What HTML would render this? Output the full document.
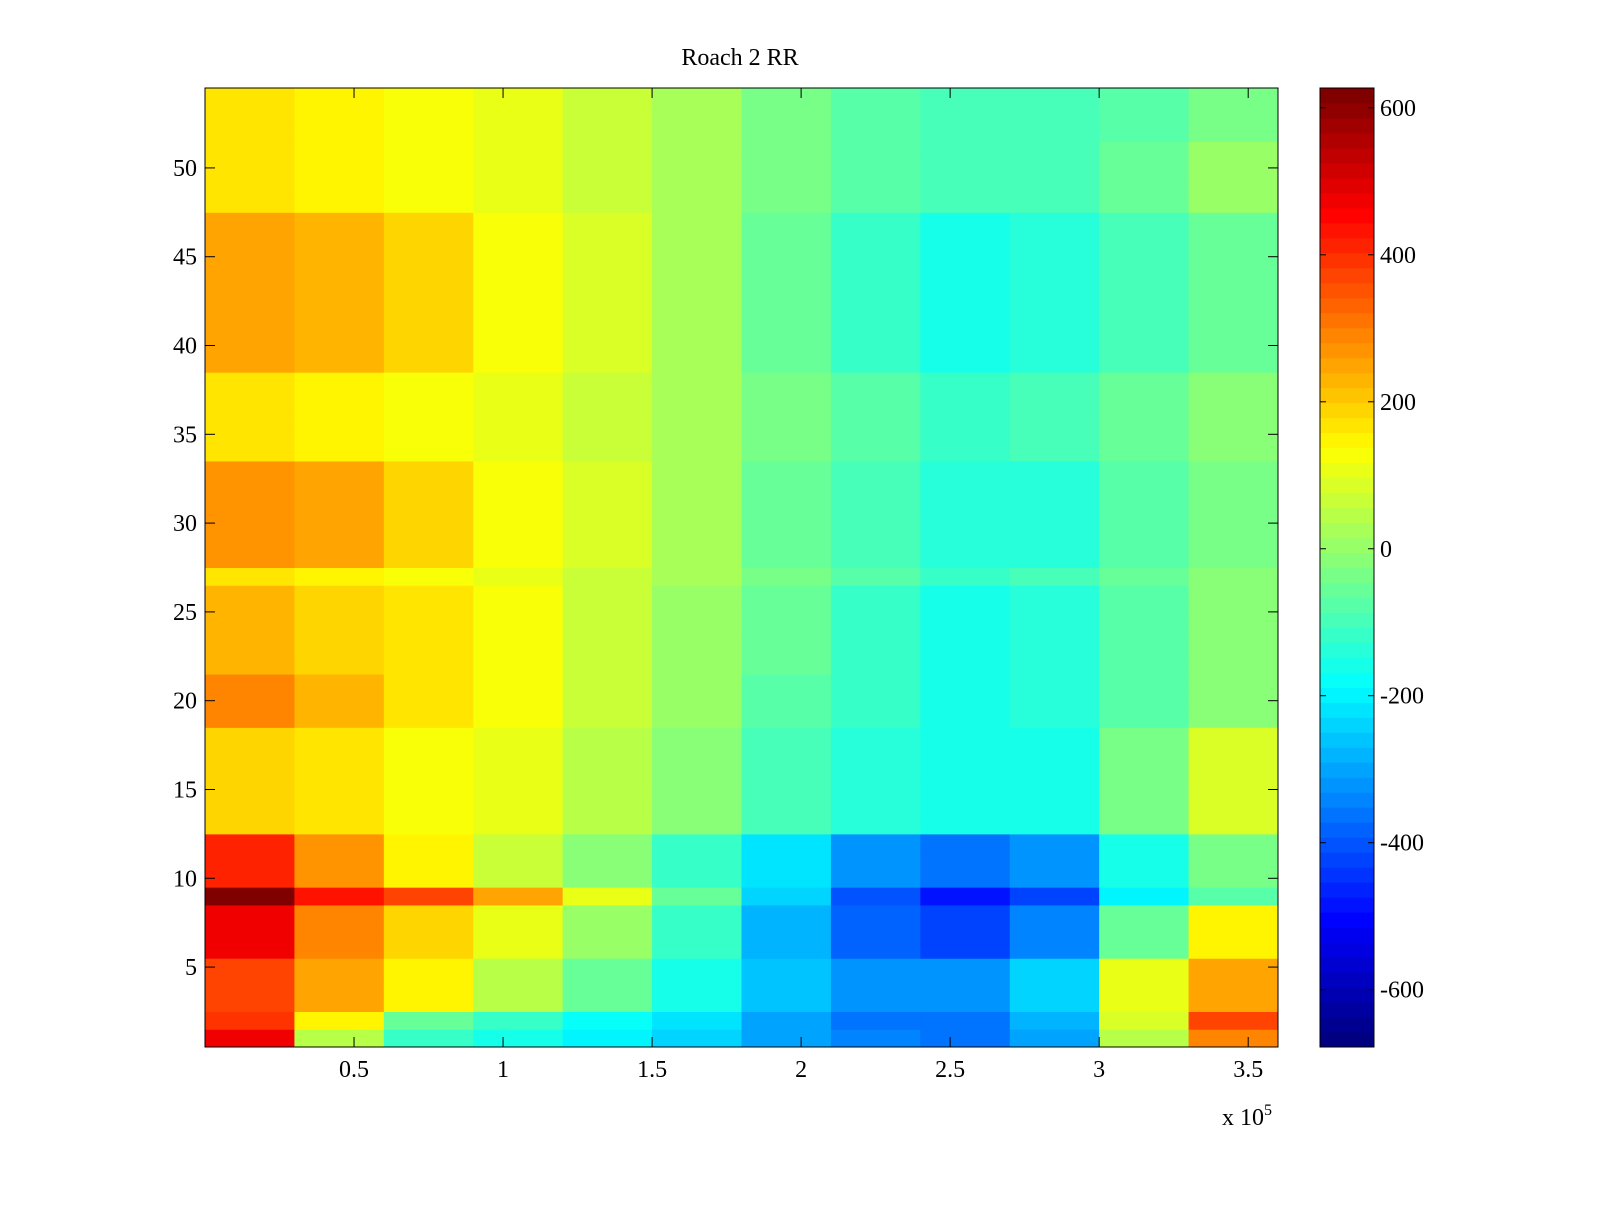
<!DOCTYPE html>
<html><head><meta charset="utf-8"><style>
body{margin:0;background:#fff;}
svg text{font-family:"Liberation Serif",serif;font-size:24px;fill:#000;}
</style></head><body>
<svg id="chart" width="1600" height="1200" xmlns="http://www.w3.org/2000/svg">
<rect width="1600" height="1200" fill="#fff"/>
<text x="740" y="65" text-anchor="middle">Roach 2 RR</text>
<g id="cells"></g>
<g id="cbar"></g>
<g id="axes"></g>
<text x="1222" y="1125">x 10<tspan dy="-10" font-size="16">5</tspan></text>
</svg>
<script>
const xEdges=[0,0.3,0.6,0.9,1.2,1.5,1.8,2.1,2.4,2.7,3.0,3.3,3.6];
const rowTop=[170,160,140,100,60,20,-30,-80,-100,-100,-80,-40];
const rowTopR=[170,160,140,100,60,20,-30,-80,-100,-100,-60,0];
const rowOrangeA=[260,240,200,140,80,20,-50,-110,-150,-140,-100,-60];
const rowYellow=[170,160,140,100,60,20,-30,-80,-110,-100,-60,-20];
const rowOrangeB=[280,250,200,140,80,20,-50,-100,-140,-130,-80,-30];
const rowMid=[230,200,170,120,60,10,-60,-110,-150,-140,-80,-20];
const rowMidO=[290,240,180,120,60,0,-70,-120,-160,-140,-80,-20];
const rowLow=[200,170,140,100,40,-20,-90,-140,-170,-150,-40,80];
const row10=[420,280,150,60,-20,-120,-220,-320,-360,-320,-150,-40];
const row9=[620,450,380,250,100,-50,-250,-400,-500,-430,-200,-80];
const row8=[480,300,200,100,0,-120,-280,-380,-420,-350,-50,150];
const row5=[380,250,150,50,-50,-150,-260,-320,-330,-250,100,250];
const row2=[400,150,-50,-120,-180,-230,-300,-370,-360,-280,80,380];
const row1=[480,50,-120,-150,-200,-250,-300,-350,-360,-300,50,300];
const rows=[row1,row2,row5,row5,row5,row8,row8,row8,row9,row10,row10,row10,
 rowLow,rowLow,rowLow,rowLow,rowLow,rowLow,rowMidO,rowMidO,rowMidO,rowMid,rowMid,rowMid,rowMid,rowMid,
 rowYellow,rowOrangeB,rowOrangeB,rowOrangeB,rowOrangeB,rowOrangeB,rowOrangeB,rowYellow,rowYellow,rowYellow,rowYellow,rowYellow,
 rowOrangeA,rowOrangeA,rowOrangeA,rowOrangeA,rowOrangeA,rowOrangeA,rowOrangeA,rowOrangeA,rowOrangeA,
 rowTopR,rowTopR,rowTopR,rowTopR,rowTop,rowTop,rowTop];
const xTicks=[0.5,1,1.5,2,2.5,3,3.5];
const yTicks=[5,10,15,20,25,30,35,40,45,50];
const cTicks=[-600,-400,-200,0,200,400,600];
const cMin=-678,cMax=627;

const L=205,R=1278,T=88,B=1047;
const xs=v=>L+(v/3.6)*(R-L);
const ys=v=>B-(v-0.5)/54*(B-T);
const NS='http://www.w3.org/2000/svg';
function jet(v){let t=(v-cMin)/(cMax-cMin);t=Math.max(0,Math.min(1,t));t=Math.round(t*63)/63;
 const c=x=>Math.round(255*Math.max(0,Math.min(1,1.5-Math.abs(4*t-x))));
 return `rgb(${c(3)},${c(2)},${c(1)})`;}
function mk(tag,a,parent){const e=document.createElementNS(NS,tag);for(const k in a)e.setAttribute(k,a[k]);parent.appendChild(e);return e;}
const cells=document.getElementById('cells');
rows.forEach((r,i)=>{const y0=ys(i+1.5),y1=ys(i+0.5);
 r.forEach((v,j)=>{const x0=xs(xEdges[j]),x1=xs(xEdges[j+1]);
  const e=mk('rect',{x:x0,y:y0,width:x1-x0+0.5,height:y1-y0+0.5,fill:jet(v)},cells);
  
  
 });});
const ax=document.getElementById('axes');
const fr=mk('rect',{x:L,y:T,width:R-L,height:B-T,fill:'none',stroke:'#000','stroke-width':1},ax);


xTicks.forEach(v=>{const x=xs(v);
 mk('line',{x1:x,x2:x,y1:B,y2:B-10,stroke:'#000'},ax);
 mk('line',{x1:x,x2:x,y1:T,y2:T+10,stroke:'#000'},ax);
 const t=mk('text',{x:x,y:B+30,'text-anchor':'middle'},ax);t.textContent=v;
 
 });
yTicks.forEach(v=>{const y=ys(v);
 mk('line',{x1:L,x2:L+10,y1:y,y2:y,stroke:'#000'},ax);
 mk('line',{x1:R,x2:R-10,y1:y,y2:y,stroke:'#000'},ax);
 const t=mk('text',{x:L-8,y:y+8,'text-anchor':'end'},ax);t.textContent=v;
 
 });
const cb=document.getElementById('cbar');
const CL=1320,CR=1374;
const cy=v=>B-(v-cMin)/(cMax-cMin)*(B-T);
for(let k=0;k<64;k++){const v0=cMin+(cMax-cMin)*k/64,v1=cMin+(cMax-cMin)*(k+1)/64;
 const e=mk('rect',{x:CL,y:cy(v1),width:CR-CL,height:cy(v0)-cy(v1)+0.5,fill:jet((v0+v1)/2)},cb);
 
 }
mk('rect',{x:CL,y:T,width:CR-CL,height:B-T,fill:'none',stroke:'#000'},cb);
cTicks.forEach(v=>{const y=cy(v);
 mk('line',{x1:CL,x2:CL+6,y1:y,y2:y,stroke:'#000'},cb);
 mk('line',{x1:CR,x2:CR-6,y1:y,y2:y,stroke:'#000'},cb);
 const t=mk('text',{x:CR+6,y:y+8},cb);t.textContent=v;
 
 });
</script>
</body></html>
